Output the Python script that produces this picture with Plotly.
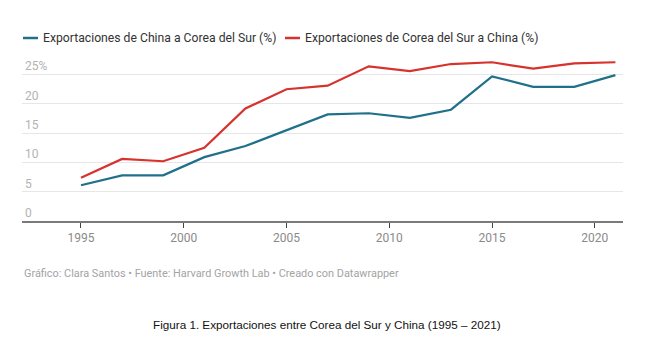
import plotly.graph_objects as go

years = [1995, 1997, 1999, 2001, 2003, 2005, 2007, 2009, 2011, 2013, 2015, 2017, 2019, 2021]
china_to_korea = [6.1, 7.8, 7.8, 10.9, 12.8, 15.5, 18.2, 18.4, 17.6, 19.0, 24.7, 22.9, 22.9, 24.9]
korea_to_china = [7.4, 10.6, 10.2, 12.5, 19.2, 22.5, 23.1, 26.4, 25.6, 26.8, 27.1, 26.0, 26.9, 27.1]

series_names = ["Exportaciones de China a Corea del Sur (%)",
                "Exportaciones de Corea del Sur a China (%)"]
series_colors = ["#20708a", "#d6322e"]

y_tick_vals = [0, 5, 10, 15, 20, 25]
y_tick_text = ["0", "5", "10", "15", "20", "25%"]
x_tick_vals = [1995, 2000, 2005, 2010, 2015, 2020]

footer = "Gráfico: Clara Santos • Fuente: Harvard Growth Lab • Creado con Datawrapper"
caption = "Figura 1. Exportaciones entre Corea del Sur y China (1995 – 2021)"

W, H = 663, 349
ML, MR, MT, MB = 22, 40, 57, 128
plot_w = W - ML - MR
plot_h = H - MT - MB


def px_x(px):
    return (px - ML) / plot_w


def px_y(py):
    return (H - MB - py) / plot_h


fig = go.Figure()
for vals, name, color in zip([china_to_korea, korea_to_china], series_names, series_colors):
    fig.add_trace(go.Scatter(x=years, y=vals, mode="lines", name=name,
                             line=dict(color=color, width=2.2), showlegend=False))

# legend drawn as short line keys with labels
legend_items = [(23, series_names[0], series_colors[0]), (285, series_names[1], series_colors[1])]
for x0, name, color in legend_items:
    fig.add_shape(type="line", xref="paper", yref="paper",
                  x0=px_x(x0), x1=px_x(x0 + 15), y0=px_y(38), y1=px_y(38),
                  line=dict(color=color, width=2.5))
    fig.add_annotation(text=name, xref="paper", yref="paper", x=px_x(x0 + 18), y=px_y(38),
                       xanchor="left", yanchor="middle", showarrow=False,
                       font=dict(family="Roboto", size=12.2, color="#333333"))

fig.add_annotation(text=footer, xref="paper", yref="paper", x=px_x(22), y=px_y(273),
                   xanchor="left", yanchor="middle", showarrow=False,
                   font=dict(family="Roboto", size=10.9, color="#a3a3a3"))
fig.add_annotation(text=caption, xref="paper", yref="paper", x=px_x(327), y=px_y(324),
                   xanchor="center", yanchor="middle", showarrow=False,
                   font=dict(family="Liberation Sans", size=11.7, color="#111111"))

fig.update_layout(
    width=W, height=H,
    margin=dict(l=ML, r=MR, t=MT, b=MB),
    paper_bgcolor="white", plot_bgcolor="white",
    xaxis=dict(range=[1992.13, 2021.37], tickvals=x_tick_vals,
               showgrid=False, zeroline=False,
               showline=True, linecolor="#7a7a7a", linewidth=2,
               ticks="outside", ticklen=5, tickwidth=1, tickcolor="#444444",
               tickfont=dict(family="Roboto", size=12, color="#8a8a8a")),
    yaxis=dict(range=[0, 28], tickvals=y_tick_vals, ticktext=y_tick_text,
               ticklabelposition="inside top", showgrid=True, gridcolor="#e6e6e6",
               gridwidth=1, zeroline=False, showline=False, ticks="",
               tickfont=dict(family="Roboto", size=12, color="#b3b3b3")),
    showlegend=False,
)

fig.write_html("out.html")
